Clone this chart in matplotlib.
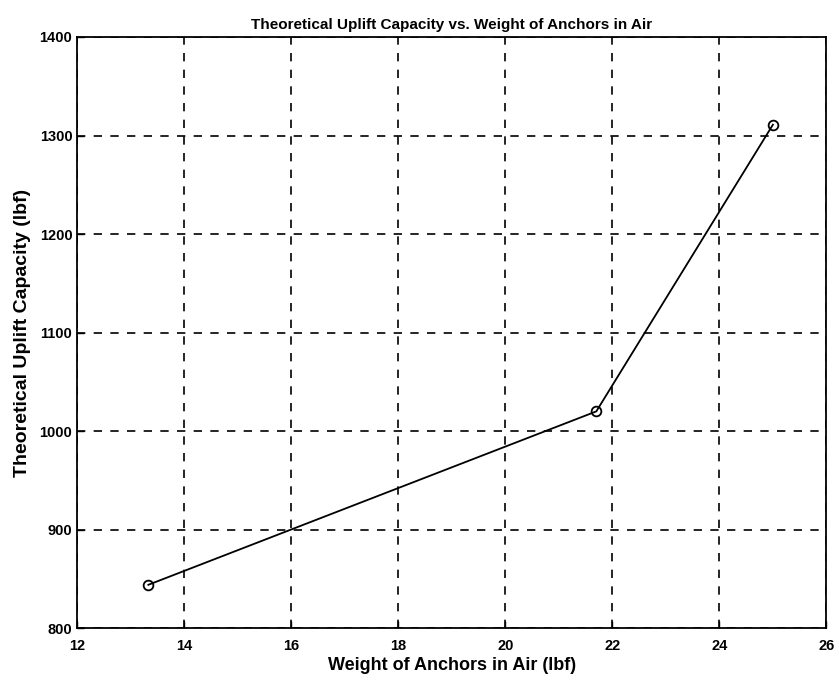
import matplotlib
matplotlib.use("Agg")
import matplotlib.pyplot as plt

# data
weight = [13.33, 21.7, 25.0]
capacity = [844, 1020, 1311]
xticks = [12, 14, 16, 18, 20, 22, 24, 26]
yticks = [800, 900, 1000, 1100, 1200, 1300, 1400]

plt.rcParams['font.family'] = ['Liberation Sans', 'DejaVu Sans']

fig = plt.figure(figsize=(8.39, 6.85), dpi=100)
ax = fig.add_axes([0.092, 0.083, 0.893, 0.863])

ax.plot(weight, capacity, color='black', lw=1.3, marker='o', ms=7,
        mfc='none', mec='black', mew=1.3)

ax.set_xlim(12, 26)
ax.set_ylim(800, 1400)
ax.set_xticks(xticks)
ax.set_yticks(yticks)
ax.grid(True, color='black', ls=(0, (5, 5)), lw=1.2)
ax.tick_params(direction='in', length=5, labelsize=10.5, width=1)
ax.tick_params(axis='x', pad=8)
for lbl in ax.get_xticklabels() + ax.get_yticklabels():
    lbl.set_fontweight('bold')
for s in ax.spines.values():
    s.set_linewidth(1.3)

ax.set_title("Theoretical Uplift Capacity vs. Weight of Anchors in Air",
             fontsize=11, fontweight='bold')
ax.set_xlabel("Weight of Anchors in Air (lbf)", fontsize=13, fontweight='bold', labelpad=3)
ax.set_ylabel("Theoretical Uplift Capacity (lbf)", fontsize=14, fontweight='bold', labelpad=6)

fig.savefig("out.png", dpi=100)
